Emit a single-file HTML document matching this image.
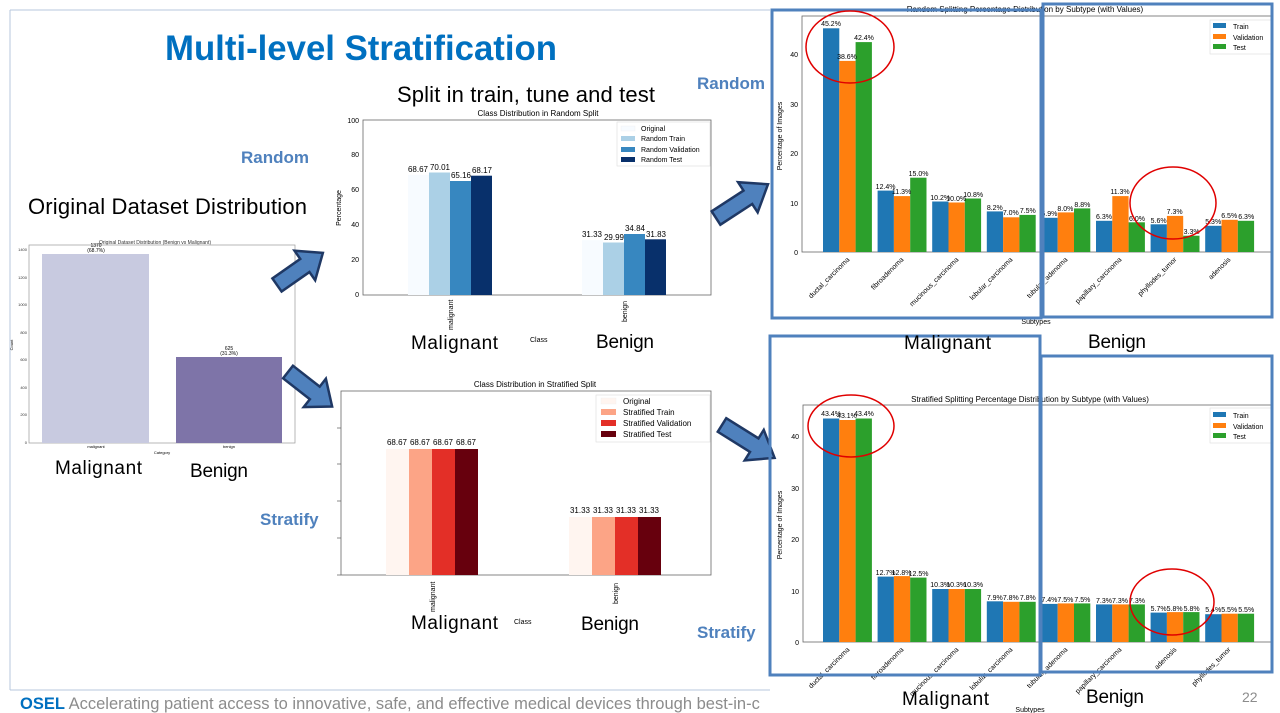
<!DOCTYPE html>
<html><head><meta charset="utf-8"><style>
html,body{margin:0;padding:0;background:#fff;width:1280px;height:713px;overflow:hidden}
svg{display:block;font-family:"Liberation Sans",sans-serif}
</style></head><body>
<svg width="1280" height="713" viewBox="0 0 1280 713" xmlns="http://www.w3.org/2000/svg">
<path d="M10 10H770M10 10V690M10 690H770" stroke="#b7c7dc" stroke-width="1" fill="none"/>
<text x="165" y="60" font-size="35" font-weight="bold" fill="#0070C0" textLength="392" lengthAdjust="spacingAndGlyphs">Multi-level Stratification</text>
<text x="397" y="102" font-size="22" fill="#000" textLength="258">Split in train, tune and test</text>
<text x="28" y="214" font-size="22" fill="#000" textLength="279">Original Dataset Distribution</text>
<g font-size="17" font-weight="bold" fill="#4F81BD">
<text x="241" y="163">Random</text><text x="697" y="89">Random</text>
<text x="260" y="525">Stratify</text><text x="697" y="638">Stratify</text>
</g>

<g>
<text x="155" y="244" font-size="5" text-anchor="middle" fill="#333">Original Dataset Distribution (Benign vs Malignant)</text>
<rect x="29" y="245" width="266" height="198" fill="none" stroke="#999" stroke-width="0.7"/>
<rect x="42" y="254" width="107" height="189" fill="#C8CAE0"/>
<rect x="176" y="357" width="106" height="86" fill="#7E74A8"/>
<text x="96" y="247" font-size="5" text-anchor="middle">1370</text><text x="96" y="252" font-size="5" text-anchor="middle">(68.7%)</text>
<text x="229" y="350" font-size="5" text-anchor="middle">625</text><text x="229" y="355" font-size="5" text-anchor="middle">(31.3%)</text>
<g font-size="4" text-anchor="end" fill="#333">
<text x="27" y="444">0</text><text x="27" y="416">200</text><text x="27" y="389">400</text><text x="27" y="361">600</text><text x="27" y="334">800</text><text x="27" y="306">1000</text><text x="27" y="279">1200</text><text x="27" y="251">1400</text></g>
<text x="96" y="448" font-size="4" text-anchor="middle">malignant</text><text x="229" y="448" font-size="4" text-anchor="middle">benign</text>
<text x="162" y="454" font-size="4" text-anchor="middle">Category</text>
<text x="13" y="345" font-size="4" transform="rotate(-90 13 345)" text-anchor="middle">Count</text>
</g>
<text x="55" y="474" font-size="19" textLength="87">Malignant</text><text x="190" y="477" font-size="19" textLength="58">Benign</text>

<g>
<text x="538" y="116" font-size="8" text-anchor="middle">Class Distribution in Random Split</text>
<rect x="363" y="120" width="348" height="175" fill="none" stroke="#666" stroke-width="0.8"/>
<g font-size="7" text-anchor="end"><text x="359" y="297">0</text><text x="359" y="262">20</text><text x="359" y="227">40</text><text x="359" y="192">60</text><text x="359" y="157">80</text><text x="359" y="123">100</text></g>
<text x="341" y="208" font-size="7" transform="rotate(-90 341 208)" text-anchor="middle">Percentage</text>
<rect x="408" y="174.8" width="21" height="120.2" fill="#F7FBFF"/>
<rect x="429" y="172.5" width="21" height="122.5" fill="#ABD0E6"/>
<rect x="450" y="181" width="21" height="114" fill="#3787C0"/>
<rect x="471" y="175.7" width="21" height="119.3" fill="#08306B"/>
<rect x="582" y="240.2" width="21" height="54.8" fill="#F7FBFF"/>
<rect x="603" y="242.5" width="21" height="52.5" fill="#ABD0E6"/>
<rect x="624" y="234" width="21" height="61" fill="#3787C0"/>
<rect x="645" y="239.3" width="21" height="55.7" fill="#08306B"/>
<g font-size="8" text-anchor="middle"><text x="418" y="172">68.67</text><text x="440" y="170">70.01</text><text x="461" y="178">65.16</text><text x="482" y="173">68.17</text>
<text x="592" y="237">31.33</text><text x="614" y="240">29.99</text><text x="635" y="231">34.84</text><text x="656" y="237">31.83</text></g>
<rect x="617" y="122" width="93" height="44" fill="#fff" stroke="#ddd" stroke-width="0.6"/>
<g font-size="7"><rect x="621" y="126" width="14" height="5" fill="#F7FBFF" stroke="#eee" stroke-width="0.4"/><text x="641" y="131">Original</text>
<rect x="621" y="136" width="14" height="5" fill="#ABD0E6"/><text x="641" y="141">Random Train</text>
<rect x="621" y="147" width="14" height="5" fill="#3787C0"/><text x="641" y="152">Random Validation</text>
<rect x="621" y="157" width="14" height="5" fill="#08306B"/><text x="641" y="162">Random Test</text></g>
<text x="453" y="330" font-size="7" transform="rotate(-90 453 330)">malignant</text>
<text x="627" y="322" font-size="7" transform="rotate(-90 627 322)">benign</text>
<text x="530" y="342" font-size="7">Class</text>
</g>
<text x="411" y="349" font-size="19" textLength="87">Malignant</text><text x="596" y="348" font-size="19" textLength="58">Benign</text>

<g>
<text x="535" y="387" font-size="8" text-anchor="middle">Class Distribution in Stratified Split</text>
<rect x="341" y="391" width="370" height="184" fill="none" stroke="#666" stroke-width="0.8"/>
<g stroke="#666" stroke-width="0.8"><path d="M337 575H341M337 538H341M337 501H341M337 464H341M337 428H341"/></g>
<rect x="386" y="449" width="23" height="126" fill="#FFF5F0"/>
<rect x="409" y="449" width="23" height="126" fill="#FCA486"/>
<rect x="432" y="449" width="23" height="126" fill="#E32F27"/>
<rect x="455" y="449" width="23" height="126" fill="#67000D"/>
<rect x="569" y="517" width="23" height="58" fill="#FFF5F0"/>
<rect x="592" y="517" width="23" height="58" fill="#FCA486"/>
<rect x="615" y="517" width="23" height="58" fill="#E32F27"/>
<rect x="638" y="517" width="23" height="58" fill="#67000D"/>
<g font-size="8" text-anchor="middle"><text x="397" y="445">68.67</text><text x="420" y="445">68.67</text><text x="443" y="445">68.67</text><text x="466" y="445">68.67</text>
<text x="580" y="513">31.33</text><text x="603" y="513">31.33</text><text x="626" y="513">31.33</text><text x="649" y="513">31.33</text></g>
<rect x="596" y="395" width="114" height="47" fill="#fff" stroke="#ddd" stroke-width="0.6"/>
<g font-size="8"><rect x="601" y="398" width="15" height="6" fill="#FFF5F0" stroke="#eee" stroke-width="0.4"/><text x="623" y="404">Original</text>
<rect x="601" y="409" width="15" height="6" fill="#FCA486"/><text x="623" y="415">Stratified Train</text>
<rect x="601" y="420" width="15" height="6" fill="#E32F27"/><text x="623" y="426">Stratified Validation</text>
<rect x="601" y="431" width="15" height="6" fill="#67000D"/><text x="623" y="437">Stratified Test</text></g>
<text x="435" y="612" font-size="7" transform="rotate(-90 435 612)">malignant</text>
<text x="618" y="604" font-size="7" transform="rotate(-90 618 604)">benign</text>
<text x="514" y="624" font-size="7">Class</text>
</g>
<text x="411" y="629" font-size="19" textLength="87">Malignant</text><text x="581" y="630" font-size="19" textLength="58">Benign</text>

<g fill="#4F81BD" stroke="#1F3864" stroke-width="2.5">
<polygon points="0,-8 34,-8 34,-18 56,0 34,18 34,8 0,8" transform="translate(277,285) rotate(-35)"/>
<polygon points="0,-8 34,-8 34,-18 56,0 34,18 34,8 0,8" transform="translate(288,372) rotate(38)"/>
<polygon points="0,-8 38,-8 38,-18 62,0 38,18 38,8 0,8" transform="translate(716,218) rotate(-33)"/>
<polygon points="0,-8 38,-8 38,-18 62,0 38,18 38,8 0,8" transform="translate(722,425) rotate(32)"/>
</g>

<g>
<text x="1025" y="12" font-size="8" text-anchor="middle">Random Splitting Percentage Distribution by Subtype (with Values)</text>
<rect x="802" y="16" width="470" height="236" fill="none" stroke="#666" stroke-width="0.8"/>
<g font-size="7" text-anchor="end"><text x="798" y="255">0</text><text x="798" y="206">10</text><text x="798" y="156">20</text><text x="798" y="107">30</text><text x="798" y="57">40</text></g>
<text x="782" y="136" font-size="7" transform="rotate(-90 782 136)" text-anchor="middle">Percentage of Images</text>
<g font-size="7" text-anchor="middle">
<g transform="translate(823,0)"><rect x="0" y="28.3" width="16.3" height="223.7" fill="#1F77B4"/><rect x="16.3" y="60.9" width="16.3" height="191.1" fill="#FF7F0E"/><rect x="32.6" y="42.1" width="16.3" height="209.9" fill="#2CA02C"/><text x="8" y="26">45.2%</text><text x="24" y="59">38.6%</text><text x="41" y="40">42.4%</text></g>
<g transform="translate(877.6,0)"><rect x="0" y="190.6" width="16.3" height="61.4" fill="#1F77B4"/><rect x="16.3" y="196.1" width="16.3" height="55.9" fill="#FF7F0E"/><rect x="32.6" y="177.7" width="16.3" height="74.3" fill="#2CA02C"/><text x="8" y="189">12.4%</text><text x="24" y="194">11.3%</text><text x="41" y="176">15.0%</text></g>
<g transform="translate(932.2,0)"><rect x="0" y="201.5" width="16.3" height="50.5" fill="#1F77B4"/><rect x="16.3" y="202.5" width="16.3" height="49.5" fill="#FF7F0E"/><rect x="32.6" y="198.5" width="16.3" height="53.5" fill="#2CA02C"/><text x="8" y="200">10.2%</text><text x="24" y="201">10.0%</text><text x="41" y="197">10.8%</text></g>
<g transform="translate(986.8,0)"><rect x="0" y="211.4" width="16.3" height="40.6" fill="#1F77B4"/><rect x="16.3" y="217.3" width="16.3" height="34.7" fill="#FF7F0E"/><rect x="32.6" y="214.9" width="16.3" height="37.1" fill="#2CA02C"/><text x="8" y="210">8.2%</text><text x="24" y="215">7.0%</text><text x="41" y="213">7.5%</text></g>
<g transform="translate(1041.4,0)"><rect x="0" y="217.8" width="16.3" height="34.2" fill="#1F77B4"/><rect x="16.3" y="212.4" width="16.3" height="39.6" fill="#FF7F0E"/><rect x="32.6" y="208.4" width="16.3" height="43.6" fill="#2CA02C"/><text x="8" y="216">6.9%</text><text x="24" y="211">8.0%</text><text x="41" y="207">8.8%</text></g>
<g transform="translate(1096,0)"><rect x="0" y="220.8" width="16.3" height="31.2" fill="#1F77B4"/><rect x="16.3" y="196.1" width="16.3" height="55.9" fill="#FF7F0E"/><rect x="32.6" y="222.3" width="16.3" height="29.7" fill="#2CA02C"/><text x="8" y="219">6.3%</text><text x="24" y="194">11.3%</text><text x="41" y="221">6.0%</text></g>
<g transform="translate(1150.6,0)"><rect x="0" y="224.3" width="16.3" height="27.7" fill="#1F77B4"/><rect x="16.3" y="215.9" width="16.3" height="36.1" fill="#FF7F0E"/><rect x="32.6" y="235.7" width="16.3" height="16.3" fill="#2CA02C"/><text x="8" y="223">5.6%</text><text x="24" y="214">7.3%</text><text x="41" y="234">3.3%</text></g>
<g transform="translate(1205.2,0)"><rect x="0" y="225.8" width="16.3" height="26.2" fill="#1F77B4"/><rect x="16.3" y="219.8" width="16.3" height="32.2" fill="#FF7F0E"/><rect x="32.6" y="220.8" width="16.3" height="31.2" fill="#2CA02C"/><text x="8" y="224">5.3%</text><text x="24" y="218">6.5%</text><text x="41" y="219">6.3%</text></g>
</g>
<g font-size="7" text-anchor="end">
<text transform="translate(850,260) rotate(-45)">ductal_carcinoma</text>
<text transform="translate(904,260) rotate(-45)">fibroadenoma</text>
<text transform="translate(959,260) rotate(-45)">mucinous_carcinoma</text>
<text transform="translate(1013,260) rotate(-45)">lobular_carcinoma</text>
<text transform="translate(1068,260) rotate(-45)">tubular_adenoma</text>
<text transform="translate(1122,260) rotate(-45)">papillary_carcinoma</text>
<text transform="translate(1177,260) rotate(-45)">phyllodes_tumor</text>
<text transform="translate(1231,260) rotate(-45)">adenosis</text>
</g>
<text x="1036" y="324" font-size="7" text-anchor="middle">Subtypes</text>
<rect x="1210" y="20" width="62" height="34" fill="#fff" stroke="#ddd" stroke-width="0.6"/>
<g font-size="7"><rect x="1213" y="23" width="13" height="5" fill="#1F77B4"/><text x="1233" y="29">Train</text>
<rect x="1213" y="34" width="13" height="5" fill="#FF7F0E"/><text x="1233" y="40">Validation</text>
<rect x="1213" y="44" width="13" height="5" fill="#2CA02C"/><text x="1233" y="50">Test</text></g>
</g>

<g>
<text x="1030" y="402" font-size="8" text-anchor="middle">Stratified Splitting Percentage Distribution by Subtype (with Values)</text>
<rect x="803" y="405" width="469" height="237" fill="none" stroke="#666" stroke-width="0.8"/>
<g font-size="7" text-anchor="end"><text x="799" y="645">0</text><text x="799" y="594">10</text><text x="799" y="542">20</text><text x="799" y="491">30</text><text x="799" y="439">40</text></g>
<text x="782" y="525" font-size="7" transform="rotate(-90 782 525)" text-anchor="middle">Percentage of Images</text>
<g font-size="7" text-anchor="middle">
<g transform="translate(823,0)"><rect x="0" y="418.5" width="16.3" height="223.5" fill="#1F77B4"/><rect x="16.3" y="420" width="16.3" height="222" fill="#FF7F0E"/><rect x="32.6" y="418.5" width="16.3" height="223.5" fill="#2CA02C"/><text x="8" y="416">43.4%</text><text x="24" y="418">43.1%</text><text x="41" y="416">43.4%</text></g>
<g transform="translate(877.6,0)"><rect x="0" y="576.6" width="16.3" height="65.4" fill="#1F77B4"/><rect x="16.3" y="576.1" width="16.3" height="65.9" fill="#FF7F0E"/><rect x="32.6" y="577.6" width="16.3" height="64.4" fill="#2CA02C"/><text x="8" y="575">12.7%</text><text x="24" y="575">12.8%</text><text x="41" y="576">12.5%</text></g>
<g transform="translate(932.2,0)"><rect x="0" y="589" width="16.3" height="53" fill="#1F77B4"/><rect x="16.3" y="589" width="16.3" height="53" fill="#FF7F0E"/><rect x="32.6" y="589" width="16.3" height="53" fill="#2CA02C"/><text x="8" y="587">10.3%</text><text x="24" y="587">10.3%</text><text x="41" y="587">10.3%</text></g>
<g transform="translate(986.8,0)"><rect x="0" y="601.3" width="16.3" height="40.7" fill="#1F77B4"/><rect x="16.3" y="601.8" width="16.3" height="40.2" fill="#FF7F0E"/><rect x="32.6" y="601.8" width="16.3" height="40.2" fill="#2CA02C"/><text x="8" y="600">7.9%</text><text x="24" y="600">7.8%</text><text x="41" y="600">7.8%</text></g>
<g transform="translate(1041.4,0)"><rect x="0" y="603.9" width="16.3" height="38.1" fill="#1F77B4"/><rect x="16.3" y="603.4" width="16.3" height="38.6" fill="#FF7F0E"/><rect x="32.6" y="603.4" width="16.3" height="38.6" fill="#2CA02C"/><text x="8" y="602">7.4%</text><text x="24" y="602">7.5%</text><text x="41" y="602">7.5%</text></g>
<g transform="translate(1096,0)"><rect x="0" y="604.4" width="16.3" height="37.6" fill="#1F77B4"/><rect x="16.3" y="604.4" width="16.3" height="37.6" fill="#FF7F0E"/><rect x="32.6" y="604.4" width="16.3" height="37.6" fill="#2CA02C"/><text x="8" y="603">7.3%</text><text x="24" y="603">7.3%</text><text x="41" y="603">7.3%</text></g>
<g transform="translate(1150.6,0)"><rect x="0" y="612.6" width="16.3" height="29.4" fill="#1F77B4"/><rect x="16.3" y="612.1" width="16.3" height="29.9" fill="#FF7F0E"/><rect x="32.6" y="612.1" width="16.3" height="29.9" fill="#2CA02C"/><text x="8" y="611">5.7%</text><text x="24" y="611">5.8%</text><text x="41" y="611">5.8%</text></g>
<g transform="translate(1205.2,0)"><rect x="0" y="614.2" width="16.3" height="27.8" fill="#1F77B4"/><rect x="16.3" y="613.7" width="16.3" height="28.3" fill="#FF7F0E"/><rect x="32.6" y="613.7" width="16.3" height="28.3" fill="#2CA02C"/><text x="8" y="612">5.4%</text><text x="24" y="612">5.5%</text><text x="41" y="612">5.5%</text></g>
</g>
<g font-size="7" text-anchor="end">
<text transform="translate(850,650) rotate(-45)">ductal_carcinoma</text>
<text transform="translate(904,650) rotate(-45)">fibroadenoma</text>
<text transform="translate(959,650) rotate(-45)">mucinous_carcinoma</text>
<text transform="translate(1013,650) rotate(-45)">lobular_carcinoma</text>
<text transform="translate(1068,650) rotate(-45)">tubular_adenoma</text>
<text transform="translate(1122,650) rotate(-45)">papillary_carcinoma</text>
<text transform="translate(1177,650) rotate(-45)">adenosis</text>
<text transform="translate(1231,650) rotate(-45)">phyllodes_tumor</text>
</g>
<text x="1030" y="712" font-size="7" text-anchor="middle">Subtypes</text>
<rect x="1210" y="408" width="62" height="35" fill="#fff" stroke="#ddd" stroke-width="0.6"/>
<g font-size="7"><rect x="1213" y="412" width="13" height="5" fill="#1F77B4"/><text x="1233" y="418">Train</text>
<rect x="1213" y="423" width="13" height="5" fill="#FF7F0E"/><text x="1233" y="429">Validation</text>
<rect x="1213" y="433" width="13" height="5" fill="#2CA02C"/><text x="1233" y="439">Test</text></g>
</g>

<g fill="none" stroke="#4F81BD" stroke-width="3">
<rect x="772" y="10" width="269" height="308"/>
<rect x="1043" y="4" width="229" height="313"/>
<rect x="770" y="336" width="270" height="339"/>
<rect x="1041" y="356" width="231" height="316"/>
</g>
<g fill="none" stroke="#E00000" stroke-width="1.5">
<ellipse cx="850" cy="47" rx="44" ry="36"/>
<ellipse cx="1173" cy="203" rx="43" ry="36"/>
<ellipse cx="851" cy="426" rx="43" ry="31"/>
<ellipse cx="1172" cy="602" rx="42" ry="33"/>
</g>
<text x="904" y="349" font-size="19" textLength="87">Malignant</text><text x="1088" y="348" font-size="19" textLength="58">Benign</text>
<text x="902" y="705" font-size="19" textLength="87">Malignant</text><text x="1086" y="703" font-size="19" textLength="58">Benign</text>

<rect x="0" y="691" width="772" height="22" fill="#fff"/>
<text x="20" y="709" font-size="16.5"><tspan font-weight="bold" fill="#0070C0">OSEL</tspan><tspan fill="#8c8c8c"> Accelerating patient access to innovative, safe, and effective medical devices through best-in-c</tspan></text>
<text x="1242" y="702" font-size="14" fill="#8c8c8c">22</text>
</svg>
</body></html>
